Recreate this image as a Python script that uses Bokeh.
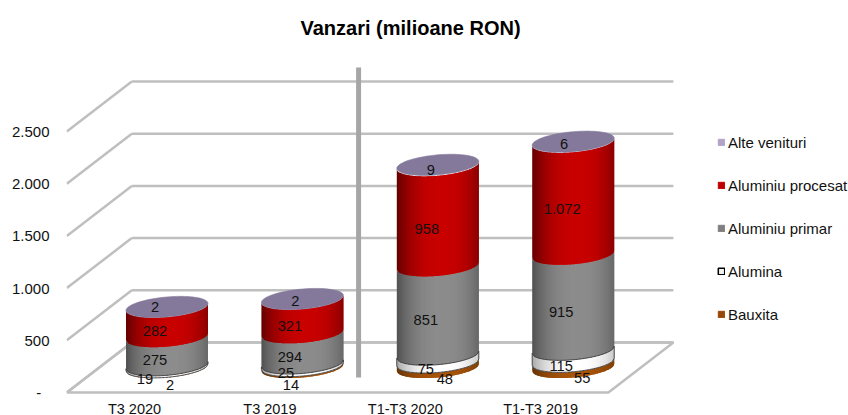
import math
from bokeh.plotting import figure
from bokeh.models import Range1d, FixedTicker, Legend, LegendItem, ColumnDataSource, Title
from bokeh.core.properties import value
from bokeh.embed import file_html
from bokeh.resources import INLINE

categories = ["T3 2020", "T3 2019", "T1-T3 2020", "T1-T3 2019"]
bauxita = [2, 14, 48, 55]
alumina = [19, 25, 75, 115]
primar = [275, 294, 851, 915]
procesat = [282, 321, 958, 1072]
alte = [2, 2, 9, 6]
series_names = ["Bauxita", "Alumina", "Aluminiu primar", "Aluminiu procesat", "Alte venituri"]
y_ticks = [0, 500, 1000, 1500, 2000, 2500]
y_labels = {0: "-\u00a0\u00a0", 500: "500", 1000: "1.000", 1500: "1.500", 2000: "2.000", 2500: "2.500"}

FONT = "Liberation Sans"
PX_X = 135.4            # pixels per category
PX_Y = 52.2 / 500       # pixels per value unit
DEPTH_X = 65 / PX_X
DEPTH_Y = 50 / PX_Y
HALF_W = 41 / PX_X
ELL_B = 10 / PX_Y
ELL_S = 3.5 / PX_Y
Y_START = -76.6

# label nudges in screen pixels, per category then per series (bottom to top)
label_dx = [[3, -22, -12, -12, -12], [-11.5, -16.5, -12.5, -12.5, -7],
            [7, -12, -12, -11, -7], [9, -12, -12, -11, -9]]
label_dy = [[18, 13, 9.5, 9.6, 0], [18, 8, 9, 10.5, 2],
            [14.5, 10, 10, 13, 5], [13, 10, 10.5, 11, 1.5]]

colors = [(168, 84, 8), (255, 255, 255), (140, 140, 140), (200, 0, 0)]
lows = [0.6, 0.66, 0.58, 0.5]
legend_colors = ["#984807", "#f2f2f2", "#7f7f7f", "#c00000", "#b3a2c7"]
TOP_COLOR = "#84799a"
GRID = "#bfbfbf"

p = figure(width=848, height=419, output_backend="svg", toolbar_location=None,
           x_range=Range1d(-0.5022, 5.2733), y_range=Range1d(Y_START, 3276),
           min_border_left=66, min_border_right=0, min_border_top=50, min_border_bottom=19)
p.outline_line_color = None
p.grid.visible = False
p.background_fill_color = "white"

p.add_layout(Title(text="Vanzari (milioane RON)", text_font=FONT, text_font_size="20px",
                   text_font_style="bold", text_color="black", align="left", offset=234,
                   standoff=24), "above")

p.yaxis.ticker = FixedTicker(ticks=y_ticks)
p.yaxis.major_label_overrides = y_labels
p.yaxis.axis_line_color = None
p.yaxis.major_tick_line_color = None
p.yaxis.major_tick_out = 0
p.yaxis.major_tick_in = 0
p.yaxis.minor_tick_line_color = None
p.yaxis.minor_tick_out = 0
p.yaxis.minor_tick_in = 0
p.yaxis.major_label_standoff = 17
p.yaxis.major_label_text_font = FONT
p.yaxis.major_label_text_font_size = "15px"
p.yaxis.major_label_text_color = "#111111"

p.xaxis.ticker = FixedTicker(ticks=list(range(len(categories))))
p.xaxis.major_label_overrides = {i: c for i, c in enumerate(categories)}
p.xaxis.axis_line_color = None
p.xaxis.major_tick_line_color = None
p.xaxis.major_tick_out = 0
p.xaxis.major_tick_in = 0
p.xaxis.minor_tick_line_color = None
p.xaxis.minor_tick_out = 0
p.xaxis.minor_tick_in = 0
p.xaxis.major_label_standoff = 0
p.xaxis.major_label_text_font = FONT
p.xaxis.major_label_text_font_size = "14.5px"
p.xaxis.major_label_text_color = "#111111"

left = -0.5
right = len(categories) - 0.5
# floor drawn as a closed outline, then walls
p.patch([left, right, right + DEPTH_X, left + DEPTH_X], [0, 0, DEPTH_Y, DEPTH_Y],
        fill_color="white", line_color=GRID, line_width=2.5)
for v in y_ticks:
    p.line([left, left + DEPTH_X], [v, v + DEPTH_Y], line_color=GRID, line_width=2.5)
    p.line([left + DEPTH_X, right + DEPTH_X], [v + DEPTH_Y, v + DEPTH_Y], line_color=GRID, line_width=2.5)

# separator between quarter and nine-month groups
sep_x = 1.5 + 21 / PX_X
p.line([sep_x, sep_x], [144, 3113], line_color="#a6a6a6", line_width=5)

series = [bauxita, alumina, primar, procesat, alte]
N = 41


def shade(c, lo, u):
    v = (u - 0.1) / 1.1
    f = lo + (1 - lo) * (1 - abs(v) ** 2.4)
    return "#%02x%02x%02x" % tuple(int(round(k * f)) for k in c)


def arc(cy, u):
    return cy - ELL_B * math.sqrt(max(0, 1 - u * u)) + ELL_S * u


lab_x, lab_y, lab_t, lab_dx, lab_dy = [], [], [], [], []
for i in range(len(categories)):
    cx = i + DEPTH_X / 2
    base = DEPTH_Y / 2
    cum = 0
    outline = None
    for s in range(4):
        val = series[s][i]
        y0, y1 = base + cum, base + cum + val
        # painter's order: each strip reaches past the next, so no seams appear
        xs, ys, fc = [], [], []
        for k in range(N):
            u0 = -1 + 2 * k / N
            u1 = -1 + 2 * (k + 1) / N
            us = [u0 + (min(1, u1 + 2 / N) - u0) * j / 6 for j in range(7)]
            px = [cx + HALF_W * u for u in us]
            xs.append(px + px[::-1])
            ys.append([arc(y0, u) for u in us] + [arc(y1, u) for u in us[::-1]])
            fc.append(shade(colors[s], lows[s], (u0 + u1) / 2))
        p.patches(xs, ys, fill_color=fc, line_color=None)
        if s == 1:
            us = [-1 + 2 * k / 60 for k in range(61)]
            ax = [cx + HALF_W * u for u in us]
            outline = (ax + ax[::-1] + [ax[0]],
                       [arc(y0, u) for u in us] + [arc(y1, u) for u in us[::-1]] + [arc(y0, us[0])])
        lab_x.append(cx)
        lab_y.append(base + cum + val / 2)
        lab_t.append(f"{val:,}".replace(",", "."))
        lab_dx.append(label_dx[i][s])
        lab_dy.append(label_dy[i][s])
        cum += val
    p.line(outline[0], outline[1], line_color="#444444", line_width=1)
    # top cap
    top_val = alte[i]
    cy = base + cum + top_val
    ex, ey = [], []
    for k in range(73):
        t = 2 * math.pi * k / 72
        ex.append(cx + HALF_W * math.cos(t))
        ey.append(cy + ELL_B * math.sin(t) + ELL_S * math.cos(t))
    p.patch(ex, ey, fill_color=TOP_COLOR, line_color=TOP_COLOR, line_width=0.6)
    lab_x.append(cx)
    lab_y.append(base + cum + top_val / 2)
    lab_t.append(f"{top_val:,}".replace(",", "."))
    lab_dx.append(label_dx[i][4])
    lab_dy.append(label_dy[i][4])

src = ColumnDataSource(dict(x=lab_x, y=lab_y, t=lab_t, dx=lab_dx, dy=lab_dy))
p.text("x", "y", text="t", source=src, x_offset="dx", y_offset="dy", text_align="center",
       text_baseline="middle", text_font=value(FONT), text_font_size="14.7px", text_color="#111111")

# legend
items = []
nan = float("nan")
for s in range(4, -1, -1):
    r = p.quad(left=[nan], right=[nan], top=[nan], bottom=[nan], fill_color=legend_colors[s],
               line_color="black" if s == 1 else legend_colors[s], line_width=1.5 if s == 1 else 1)
    items.append(LegendItem(label=series_names[s], renderers=[r]))
leg = Legend(items=items, location=(651, 76), orientation="vertical", glyph_width=8, glyph_height=8,
             label_standoff=3, spacing=23, label_height=20, padding=0, margin=0,
             border_line_color=None, background_fill_alpha=0,
             label_text_font=FONT, label_text_font_size="15px", label_text_color="#111111")
p.add_layout(leg, "center")

open("out.html", "w").write(file_html(p, INLINE))
